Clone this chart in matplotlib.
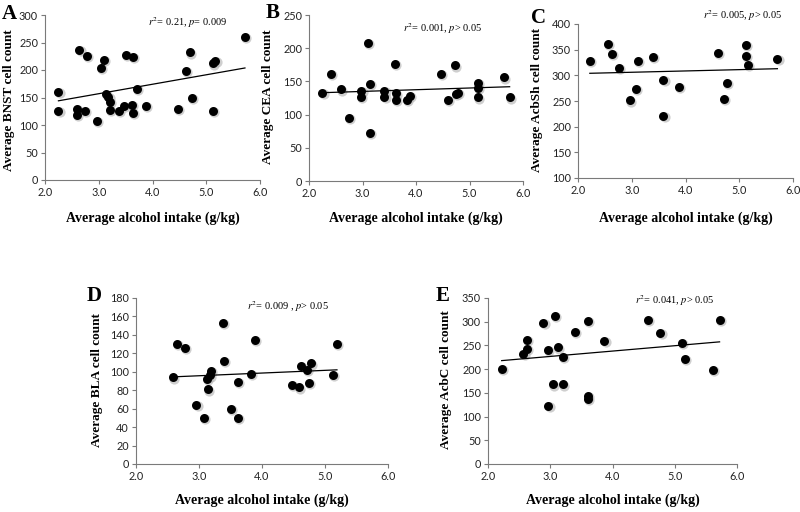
import matplotlib
matplotlib.use("Agg")
import matplotlib.pyplot as plt
import matplotlib.transforms as mtransforms
import numpy as np

plt.rcParams['mathtext.fontset'] = 'stix'

# ---------------- data ----------------
A_x = [2.25, 2.25, 2.64, 2.78, 2.60, 2.60, 2.74, 2.97, 3.04, 3.10, 3.14, 3.18, 3.20, 3.20,
       3.37, 3.47, 3.51, 3.63, 3.62, 3.63, 3.71, 3.87, 4.47, 4.62, 4.70, 4.73, 5.13, 5.17,
       5.13, 5.72]
A_y = [160, 126, 236, 226, 130, 119, 126, 108, 204, 218, 156, 151, 142, 128,
       126, 134, 228, 224, 137, 122, 165, 134, 130, 198, 232, 150, 212, 217,
       126, 260]
A_fit = [17.2, 105.3]

B_x = [2.25, 2.41, 2.59, 2.74, 2.97, 2.98, 3.10, 3.14, 3.14, 3.41, 3.41, 3.61, 3.63, 3.63,
       3.83, 3.88, 4.47, 4.60, 4.72, 4.74, 4.79, 5.15, 5.15, 5.15, 5.64, 5.75]
B_y = [133, 161, 138, 95, 127, 136, 208, 146, 73, 136, 127, 176, 132, 122,
       122, 128, 161, 122, 174, 131, 133, 148, 140, 126, 156, 126]
B_fit = [2.57, 127.2]

C_x = [2.22, 2.56, 2.63, 2.76, 2.97, 3.07, 3.11, 3.40, 3.59, 3.59, 3.87, 4.60, 4.72, 4.77,
       5.12, 5.12, 5.16, 5.71]
C_y = [328, 362, 341, 314, 251, 274, 328, 336, 291, 221, 278, 343, 254, 286,
       360, 338, 320, 332]
C_fit = [2.56, 298.3]

D_x = [2.59, 2.65, 2.77, 2.96, 3.08, 3.14, 3.13, 3.17, 3.19, 3.40, 3.38, 3.50, 3.62, 3.62,
       3.82, 3.89, 4.47, 4.58, 4.62, 4.71, 4.75, 4.78, 5.13, 5.19]
D_y = [94, 130, 126, 64, 50, 81, 92, 96, 101, 112, 153, 60, 89, 50,
       98, 135, 86, 83, 106, 102, 88, 109, 97, 130]
D_fit = [2.93, 86.9]

E_x = [2.22, 2.57, 2.63, 2.63, 2.89, 2.96, 2.97, 3.04, 3.07, 3.12, 3.20, 3.20, 3.40, 3.60,
       3.60, 3.60, 3.87, 4.57, 4.77, 5.12, 5.16, 5.61, 5.72]
E_y = [200, 232, 242, 261, 297, 240, 123, 168, 313, 246, 225, 168, 278, 302,
       144, 138, 260, 304, 276, 256, 221, 198, 304]
E_fit = [11.3, 192.9]

panel_letters = ['A', 'B', 'C', 'D', 'E']
y_labels = ['Average BNST cell count', 'Average CEA cell count', 'Average AcbSh cell count',
            'Average BLA cell count', 'Average AcbC cell count']
stats_texts = [r'$r^2$= 0.21, $p$= 0.009', r'$r^2$= 0.001, $p$> 0.05', r'$r^2$= 0.005, $p$> 0.05',
               r'$r^2$= 0.009 , $p$> 0.05', r'$r^2$= 0.041, $p$> 0.05']
y_limits = [(0, 300, 50), (0, 250, 50), (100, 400, 50), (0, 180, 20), (0, 350, 50)]
x_ticks = [2.0, 3.0, 4.0, 5.0, 6.0]
x_label = 'Average alcohol intake (g/kg)'

# ---------------- layout ----------------
W, H = 800, 512
fig = plt.figure(figsize=(8, 5.12), dpi=100)

def px_axes(l, t, r, b):
    return fig.add_axes([l / W, 1 - b / H, (r - l) / W, (b - t) / H])

axes_px = [(45, 15, 260, 180), (309, 15, 523, 181), (578, 24, 793, 178),
           (136, 298, 388, 464), (488, 298, 737, 464)]
letter_px = [(2, 14), (266, 13), (531, 18), (87, 296), (436, 296)]
ylab_px = [(9, 100), (268, 97), (537, 100), (97, 380), (446, 380)]
xlab_y = [218, 218, 218, 500, 500]
stats_px = [(148, 23), (403, 29), (703, 16), (247, 307), (635, 301)]

datasets = [(A_x, A_y, A_fit), (B_x, B_y, B_fit), (C_x, C_y, C_fit),
            (D_x, D_y, D_fit), (E_x, E_y, E_fit)]

serif = 'Liberation Serif'
tickfont = 'Lato'
spine_col = '#7a7a7a'

for i, (xs, ys, fit) in enumerate(datasets):
    l, t, r, b = axes_px[i]
    ax = px_axes(l, t, r, b)
    ylo, yhi, ystep = y_limits[i]
    ax.set_xlim(2.0, 6.0)
    ax.set_ylim(ylo, yhi)
    ax.set_xticks(x_ticks)
    ax.set_xticklabels([f'{v:.1f}' for v in x_ticks])
    ax.set_yticks(np.arange(ylo, yhi + 1, ystep))
    for s in ['top', 'right']:
        ax.spines[s].set_visible(False)
    for s in ['left', 'bottom']:
        ax.spines[s].set_color(spine_col)
        ax.spines[s].set_linewidth(0.8)
    ax.tick_params(direction='out', length=3, width=0.8, color=spine_col,
                   labelsize=7.8, labelcolor='#222222', pad=2)
    for lab in ax.get_xticklabels() + ax.get_yticklabels():
        lab.set_fontfamily(tickfont)

    # shadow
    shadow = mtransforms.offset_copy(ax.transData, fig=fig, x=1.2, y=-1.2, units='dots')
    ax.scatter(xs, ys, s=54, color='#b0b0b0', alpha=0.6, linewidths=0,
               transform=shadow, zorder=2, clip_on=False)
    ax.scatter(xs, ys, s=42, color='black', linewidths=0, zorder=3, clip_on=False)

    xx = np.array([min(xs), max(xs)])
    ax.plot(xx, fit[0] * xx + fit[1], color='black', lw=0.9, zorder=4)

    # texts
    lx, ly = letter_px[i]
    fig.text(lx / W, 1 - ly / H, panel_letters[i], fontfamily=serif, fontweight='bold',
             fontsize=15, ha='left', va='center')
    yx, yy = ylab_px[i]
    fig.text(yx / W, 1 - yy / H, y_labels[i], fontfamily=serif, fontweight='bold',
             fontsize=9.5, rotation=90, ha='center', va='center')
    fig.text(((l + r) / 2) / W, 1 - xlab_y[i] / H, x_label, fontfamily=serif,
             fontweight='bold', fontsize=10, ha='center', va='center')
    sx, sy = stats_px[i]
    fig.text(sx / W, 1 - sy / H, stats_texts[i], fontfamily=serif, fontsize=7.5,
             ha='left', va='center')

fig.savefig('out.png', dpi=100)
